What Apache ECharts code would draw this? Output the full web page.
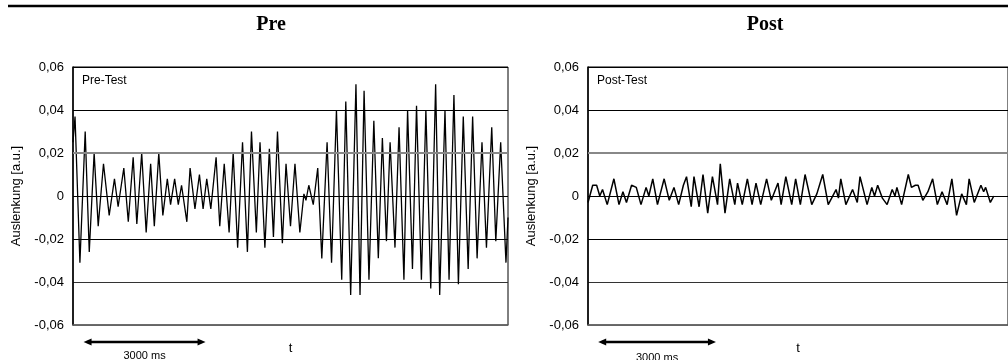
<!DOCTYPE html>
<html>
<head>
<meta charset="utf-8">
<script src="https://cdn.jsdelivr.net/npm/echarts@6/dist/echarts.min.js"></script>
<style>
  html, body { margin: 0; padding: 0; background: #fff; }
  #chart { width: 1008px; height: 360px; }
</style>
</head>
<body>
<div id="chart"></div>
<script>
// time in ms, amplitude in a.u.
const preTime = [0, 50, 170, 300, 400, 520, 620, 750, 890, 1020, 1110, 1250, 1360, 1480, 1570, 1690, 1800, 1910, 2000, 2110,
  2210, 2320, 2400, 2500, 2590, 2670, 2800, 2880, 3000, 3110, 3200, 3290, 3390, 3520, 3610, 3720, 3840, 3940, 4050, 4170,
  4290, 4390, 4510, 4600, 4720, 4830, 4930, 5030, 5150, 5240, 5350, 5460, 5580, 5680, 5730, 5800, 5910, 6020, 6120, 6250,
  6360, 6480, 6610, 6710, 6830, 6960, 7060, 7160, 7280, 7400, 7510, 7610, 7710, 7800, 7920, 8020, 8140, 8230, 8350, 8450,
  8570, 8680, 8800, 8920, 9020, 9150, 9250, 9370, 9480, 9600, 9720, 9830, 9940, 10060, 10170, 10300, 10400, 10520, 10650, 10700];
const preValue = [0.025, 0.037, -0.031, 0.030, -0.026, 0.020, -0.014, 0.015, -0.009, 0.008, -0.005, 0.013, -0.012, 0.018, -0.013, 0.020, -0.017, 0.015, -0.014, 0.020,
  -0.009, 0.008, -0.004, 0.008, -0.004, 0.005, -0.012, 0.013, -0.006, 0.010, -0.006, 0.008, -0.006, 0.018, -0.014, 0.015, -0.017, 0.020, -0.024, 0.025,
  -0.026, 0.030, -0.017, 0.025, -0.024, 0.022, -0.019, 0.030, -0.022, 0.015, -0.014, 0.015, -0.017, 0.001, -0.002, 0.005, -0.004, 0.013, -0.029, 0.025,
  -0.031, 0.040, -0.039, 0.044, -0.046, 0.052, -0.046, 0.049, -0.039, 0.035, -0.029, 0.027, -0.021, 0.025, -0.024, 0.032, -0.039, 0.040, -0.034, 0.042,
  -0.039, 0.040, -0.043, 0.052, -0.046, 0.040, -0.039, 0.047, -0.041, 0.037, -0.034, 0.037, -0.029, 0.025, -0.024, 0.032, -0.021, 0.025, -0.031, -0.010];

const postTime = [0, 120, 220, 300, 370, 490, 660, 790, 890, 980, 1110, 1230, 1350, 1480, 1550, 1650, 1770, 1940, 2070, 2190,
  2310, 2430, 2510, 2630, 2700, 2830, 2930, 3050, 3170, 3300, 3370, 3490, 3610, 3740, 3810, 3930, 4060, 4180, 4280, 4400,
  4550, 4670, 4840, 4920, 5040, 5190, 5290, 5410, 5530, 5700, 5830, 5980, 6120, 6320, 6380, 6440, 6570, 6740, 6860, 6930,
  7110, 7230, 7300, 7380, 7500, 7620, 7750, 7820, 7870, 7990, 8160, 8240, 8340, 8410, 8530, 8660, 8780, 8900, 9020, 9150,
  9270, 9390, 9520, 9640, 9710, 9840, 10010, 10080, 10130, 10250, 10340];
const postValue = [-0.003, 0.005, 0.005, 0.000, 0.003, -0.004, 0.008, -0.004, 0.002, -0.003, 0.005, 0.004, -0.004, 0.004, 0.000, 0.008, -0.004, 0.008, -0.002, 0.004,
  -0.004, 0.005, 0.009, -0.005, 0.009, -0.005, 0.010, -0.008, 0.009, -0.004, 0.015, -0.008, 0.008, -0.004, 0.006, -0.004, 0.008, -0.004, 0.006, -0.004,
  0.008, -0.002, 0.006, -0.004, 0.009, -0.004, 0.008, -0.004, 0.010, -0.004, 0.001, 0.010, -0.004, 0.003, -0.001, 0.008, -0.004, 0.003, -0.003, 0.009,
  -0.004, 0.004, 0.000, 0.005, -0.001, -0.004, 0.003, 0.000, 0.004, -0.004, 0.010, 0.004, 0.005, 0.005, -0.002, 0.002, 0.008, -0.004, 0.002, -0.004,
  0.008, -0.009, 0.001, -0.004, 0.008, -0.003, 0.005, 0.002, 0.004, -0.003, 0.000];

const panelTitles = ['Pre', 'Post'];
const panelTags = ['Pre-Test', 'Post-Test'];
const yAxisName = 'Auslenkung [a.u.]';
const xAxisName = 't';
const scaleStart = 260;
const scaleEnd = 3260;
const scaleLabel = '3000 ms';
const tMax = 10700;

const chart = echarts.init(document.getElementById('chart'), null, { renderer: 'canvas' });
const sans = 'Liberation Sans, Arial, sans-serif';
const serif = 'Liberation Serif, Times New Roman, serif';
const gridLefts = [73, 588];
const gridTop = 67;
const gridHeight = 260;

const zip = (ts, vs) => ts.map((t, i) => [t, vs[i]]);
const fmt = (v) => (v === 0 ? '0' : v.toFixed(2).replace('.', ','));

function yAxis(idx) {
  return {
    gridIndex: idx,
    type: 'value',
    min: -0.06,
    max: 0.06,
    interval: 0.02,
    name: yAxisName,
    nameLocation: 'middle',
    nameGap: 50,
    nameTextStyle: { color: '#000', fontFamily: sans, fontSize: 13 },
    axisLine: { show: true, lineStyle: { color: '#000', width: 1.5 } },
    axisTick: { show: false },
    axisLabel: { color: '#000', fontFamily: sans, fontSize: 13, margin: 9, formatter: fmt },
    splitLine: { show: true, lineStyle: { color: ['#666', '#333', '#000', '#000', '#888', '#000', '#000'], width: 1 } },
  };
}

function xAxis(idx) {
  return {
    gridIndex: idx,
    type: 'value',
    min: 0,
    max: tMax,
    name: xAxisName,
    nameLocation: 'middle',
    nameGap: 17,
    nameTextStyle: { color: '#000', fontFamily: sans, fontSize: 13 },
    axisLine: { show: true, onZero: false, lineStyle: { color: '#666', width: 1.5 } },
    axisTick: { show: false },
    axisLabel: { show: false },
    splitLine: { show: false },
  };
}

function trace(idx, data, width) {
  return {
    type: 'line',
    xAxisIndex: idx,
    yAxisIndex: idx,
    data,
    showSymbol: false,
    clip: true,
    lineStyle: { color: '#000', width },
    markLine: {
      silent: true,
      symbol: 'none',
      label: { show: false },
      lineStyle: { color: '#888', width: 2, type: 'solid' },
      data: [{ yAxis: 0.02 }],
    },
    z: 3,
  };
}

chart.setOption({
  animation: false,
  backgroundColor: '#fff',
  grid: gridLefts.map((left) => ({
    left,
    top: gridTop,
    width: 435,
    height: gridHeight,
    show: true,
    borderColor: '#000',
    borderWidth: 1,
    backgroundColor: 'transparent',
  })),
  xAxis: [xAxis(0), xAxis(1)],
  yAxis: [yAxis(0), yAxis(1)],
  series: [trace(0, zip(preTime, preValue), 1.3), trace(1, zip(postTime, postValue), 1.5)],
});

// titles, tags and the 3000 ms scale arrows, placed through the axes
const graphics = [
  { type: 'line', shape: { x1: 8, y1: 6, x2: 1008, y2: 6 }, style: { stroke: '#000', lineWidth: 2.5 } },
];
const titleCenters = [271, 765];
panelTitles.forEach((title, i) => {
  graphics.push({
    type: 'text', x: titleCenters[i], y: 15,
    style: { text: title, font: 'bold 20px ' + serif, fill: '#000', textAlign: 'center' },
  });
  graphics.push({
    type: 'text', x: gridLefts[i] + 9, y: 75,
    style: { text: panelTags[i], font: '12px ' + sans, fill: '#000' },
  });
  const p0 = chart.convertToPixel({ gridIndex: i }, [scaleStart, -0.06]);
  const p1 = chart.convertToPixel({ gridIndex: i }, [scaleEnd, -0.06]);
  const y = p0[1] + 17;
  graphics.push({ type: 'line', shape: { x1: p0[0] + 4, y1: y, x2: p1[0] - 4, y2: y }, style: { stroke: '#000', lineWidth: 2.5 } });
  graphics.push({ type: 'polygon', shape: { points: [[p0[0], y], [p0[0] + 8, y - 3.5], [p0[0] + 8, y + 3.5]] }, style: { fill: '#000' } });
  graphics.push({ type: 'polygon', shape: { points: [[p1[0], y], [p1[0] - 8, y + 3.5], [p1[0] - 8, y - 3.5]] }, style: { fill: '#000' } });
  graphics.push({
    type: 'text', x: (p0[0] + p1[0]) / 2, y: y + 8 + i * 2,
    style: { text: scaleLabel, font: '11px ' + sans, fill: '#000', textAlign: 'center' },
  });
});
chart.setOption({ graphic: graphics });
</script>
</body>
</html>
